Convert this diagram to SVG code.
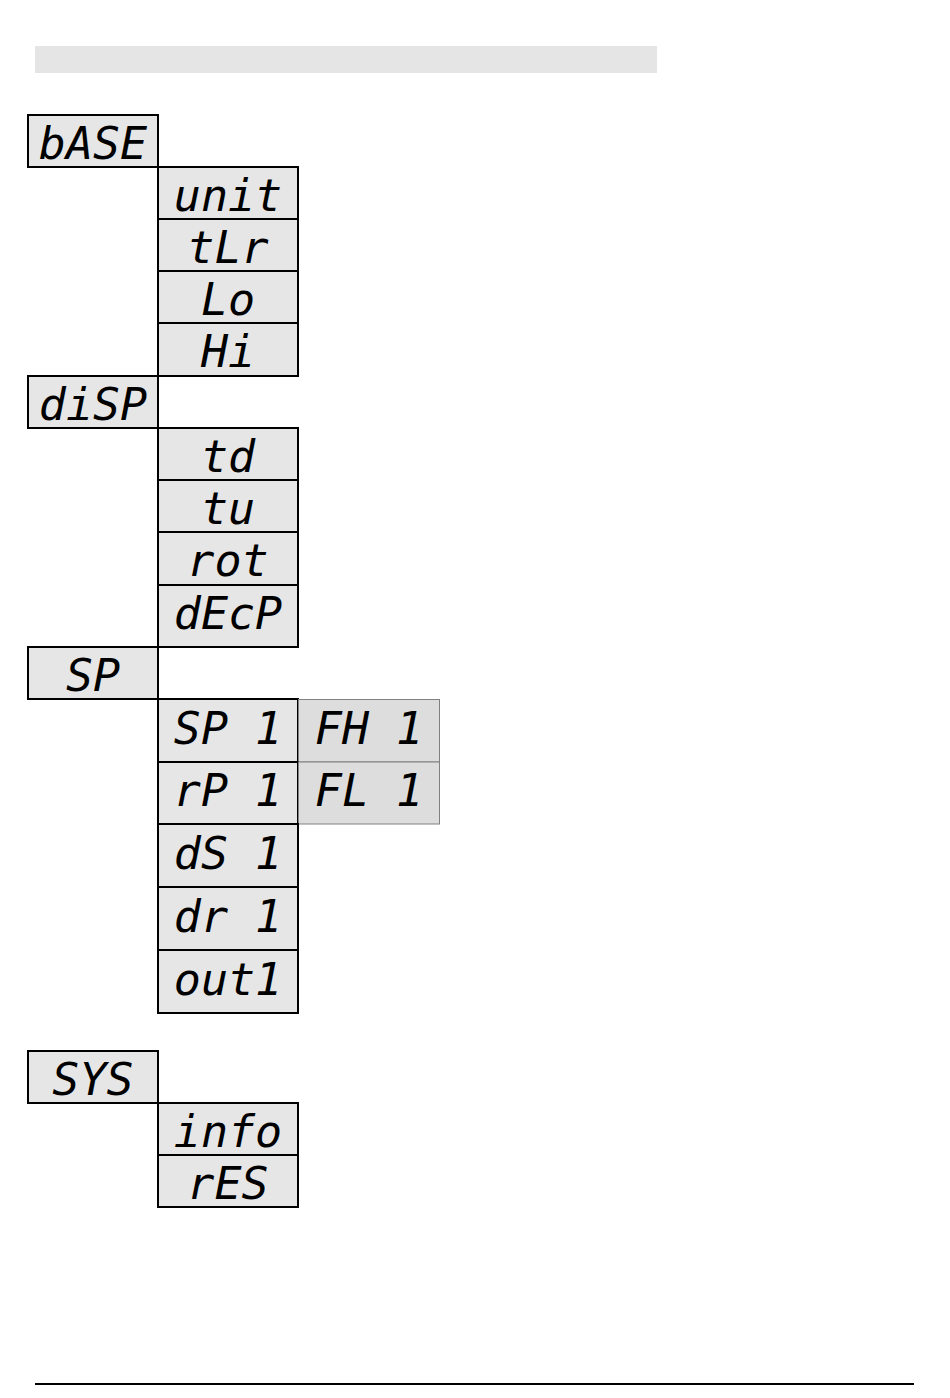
<svg xmlns="http://www.w3.org/2000/svg" width="950" height="1398" viewBox="0 0 950 1398">
<style>
.box{fill:#e6e6e6;stroke:#000;stroke-width:2}
.sub{fill:#dddddd;stroke:#808080;stroke-width:1}
.lbl{font-family:"DejaVu Sans Mono","Liberation Mono",monospace;font-style:italic;font-size:45px;fill:#000;text-anchor:middle;white-space:pre}
</style>
<rect x="35" y="46" width="622" height="27" fill="#e5e5e5"/>
<line x1="35" y1="1384" x2="914" y2="1384" stroke="#000" stroke-width="2"/>
<g id="connectors"></g>
<g id="bASE"><rect class="box" x="28" y="115" width="130" height="52"/><text class="lbl" x="93" y="159">bASE</text></g>
<g id="unit"><rect class="box" x="158" y="167" width="140" height="52"/><text class="lbl" x="228" y="211">unit</text></g>
<g id="tLr"><rect class="box" x="158" y="219" width="140" height="52"/><text class="lbl" x="228" y="263">tLr</text></g>
<g id="Lo"><rect class="box" x="158" y="271" width="140" height="52"/><text class="lbl" x="228" y="315">Lo</text></g>
<g id="Hi"><rect class="box" x="158" y="323" width="140" height="53"/><text class="lbl" x="228" y="367">Hi</text></g>
<g id="diSP"><rect class="box" x="28" y="376" width="130" height="52"/><text class="lbl" x="93" y="420">diSP</text></g>
<g id="td"><rect class="box" x="158" y="428" width="140" height="52"/><text class="lbl" x="228" y="472">td</text></g>
<g id="tu"><rect class="box" x="158" y="480" width="140" height="52"/><text class="lbl" x="228" y="524">tu</text></g>
<g id="rot"><rect class="box" x="158" y="532" width="140" height="53"/><text class="lbl" x="228" y="576">rot</text></g>
<g id="dEcP"><rect class="box" x="158" y="585" width="140" height="62"/><text class="lbl" x="228" y="629">dEcP</text></g>
<g id="SP"><rect class="box" x="28" y="647" width="130" height="52"/><text class="lbl" x="93" y="691">SP</text></g>
<g id="SP1"><rect class="box" x="158" y="699" width="140" height="63"/><text class="lbl" x="228" y="744" xml:space="preserve">SP 1</text></g>
<g id="FH1"><rect class="sub" x="298.5" y="699.5" width="141" height="62.5"/><text class="lbl" x="369" y="744" xml:space="preserve">FH 1</text></g>
<g id="rP1"><rect class="box" x="158" y="762" width="140" height="62"/><text class="lbl" x="228" y="806" xml:space="preserve">rP 1</text></g>
<g id="FL1"><rect class="sub" x="298.5" y="762" width="141" height="62"/><text class="lbl" x="369" y="806" xml:space="preserve">FL 1</text></g>
<g id="dS1"><rect class="box" x="158" y="824" width="140" height="63"/><text class="lbl" x="228" y="869" xml:space="preserve">dS 1</text></g>
<g id="dr1"><rect class="box" x="158" y="887" width="140" height="63"/><text class="lbl" x="228" y="932" xml:space="preserve">dr 1</text></g>
<g id="out1"><rect class="box" x="158" y="950" width="140" height="63"/><text class="lbl" x="228" y="995">out1</text></g>
<g id="SYS"><rect class="box" x="28" y="1051" width="130" height="52"/><text class="lbl" x="93" y="1095">SYS</text></g>
<g id="info"><rect class="box" x="158" y="1103" width="140" height="52"/><text class="lbl" x="228" y="1147">info</text></g>
<g id="rES"><rect class="box" x="158" y="1155" width="140" height="52"/><text class="lbl" x="228" y="1199">rES</text></g>
</svg>
